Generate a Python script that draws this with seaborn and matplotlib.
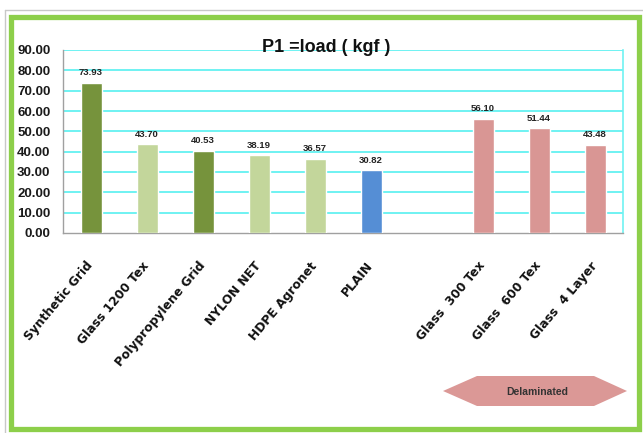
import matplotlib
matplotlib.use("Agg")
import matplotlib.pyplot as plt
from matplotlib.patches import Rectangle, Polygon
from matplotlib.lines import Line2D
import seaborn as sns
import pandas as pd

# Reinforcement types and their P1 load values (kgf)
categories = ["Synthetic Grid", "Glass 1200 Tex", "Polypropylene Grid", "NYLON NET",
              "HDPE Agronet", "PLAIN", "Glass  300 Tex", "Glass  600 Tex", "Glass  4 Layer"]
loads = [73.93, 43.70, 40.53, 38.19, 36.57, 30.82, 56.10, 51.44, 43.48]
bar_colors = ["#76933C", "#C3D69B", "#76933C", "#C3D69B", "#C3D69B",
              "#558ED5", "#D99694", "#D99694", "#D99694"]
# empty slot separating the delaminated group
order = categories[:6] + [" "] + categories[6:]
y_ticks = [0, 10, 20, 30, 40, 50, 60, 70, 80, 90]

W, H = 643, 433
sns.set_theme(style="white")
plt.rcParams["font.family"] = ["Liberation Sans", "DejaVu Sans"]

fig = plt.figure(figsize=(W / 100, H / 100), dpi=100)
fig.patch.set_facecolor("white")


def fx(x):
    return x / W


def fy(y):
    return 1 - y / H


ax = fig.add_axes([fx(63), fy(233), fx(623) - fx(63), fy(50) - fy(233)])

df = pd.DataFrame({"category": categories, "load": loads})
sns.barplot(data=df, x="category", y="load", hue="category", order=order,
            palette=dict(zip(categories, bar_colors)), width=0.375,
            legend=False, saturation=1, ax=ax, zorder=3)

ax.set_ylim(0, 90)
ax.set_yticks(y_ticks)
ax.set_yticklabels([f"{v:.2f}" for v in y_ticks], fontsize=9.5, fontweight="bold",
                   color="#1a1a1a")
ax.set_xlabel("")
ax.set_ylabel("")

for v in y_ticks[1:]:
    ax.axhline(v, color="#6FF2F2", lw=1.4, zorder=1)

for container in ax.containers:
    ax.bar_label(container, fmt="%.2f", padding=4, fontsize=6.8, fontweight="bold",
                 color="#222222")

ax.tick_params(axis="y", length=0, pad=9)
ax.tick_params(axis="x", length=0, pad=22)
for lbl in ax.get_xticklabels():
    lbl.set_rotation(50)
    lbl.set_ha("right")
    lbl.set_va("center")
    lbl.set_rotation_mode("anchor")
    lbl.set_fontfamily("DejaVu Sans")
    lbl.set_fontweight("bold")
    lbl.set_fontsize(8.8)
    lbl.set_color("#111111")

ax.spines["top"].set_visible(False)
ax.spines["right"].set_color("#6FF2F2")
ax.spines["right"].set_linewidth(1.2)
for side in ["left", "bottom"]:
    ax.spines[side].set_color("#A0A0A0")
    ax.spines[side].set_linewidth(1.0)

fig.text(fx(326), fy(48), "P1 =load ( kgf )", ha="center", va="center",
         fontsize=13, fontweight="bold", color="#111111")

# "Delaminated" double-headed banner
pts = [(443, 391), (477, 376), (594, 376), (627, 391), (594, 406), (477, 406)]
fig.patches.append(Polygon([(fx(x), fy(y)) for x, y in pts], closed=True,
                           transform=fig.transFigure, facecolor="#DB9896",
                           edgecolor="none", zorder=2))
fig.text(fx(537), fy(392), "Delaminated", ha="center", va="center", fontsize=7.5,
         fontweight="bold", color="#333333")

# frame
fig.lines.append(Line2D([fx(5), fx(643)], [fy(10), fy(10)], transform=fig.transFigure,
                        color="#C8C8C8", lw=1))
fig.lines.append(Line2D([fx(5), fx(5)], [fy(10), fy(433)], transform=fig.transFigure,
                        color="#C8C8C8", lw=1))
fig.patches.append(Rectangle((fx(11), fy(429)), fx(639) - fx(11), fy(17) - fy(429),
                             transform=fig.transFigure, facecolor="none",
                             edgecolor="#8DCF4A", lw=3.8, zorder=0))

fig.savefig("out.png", dpi=100)
